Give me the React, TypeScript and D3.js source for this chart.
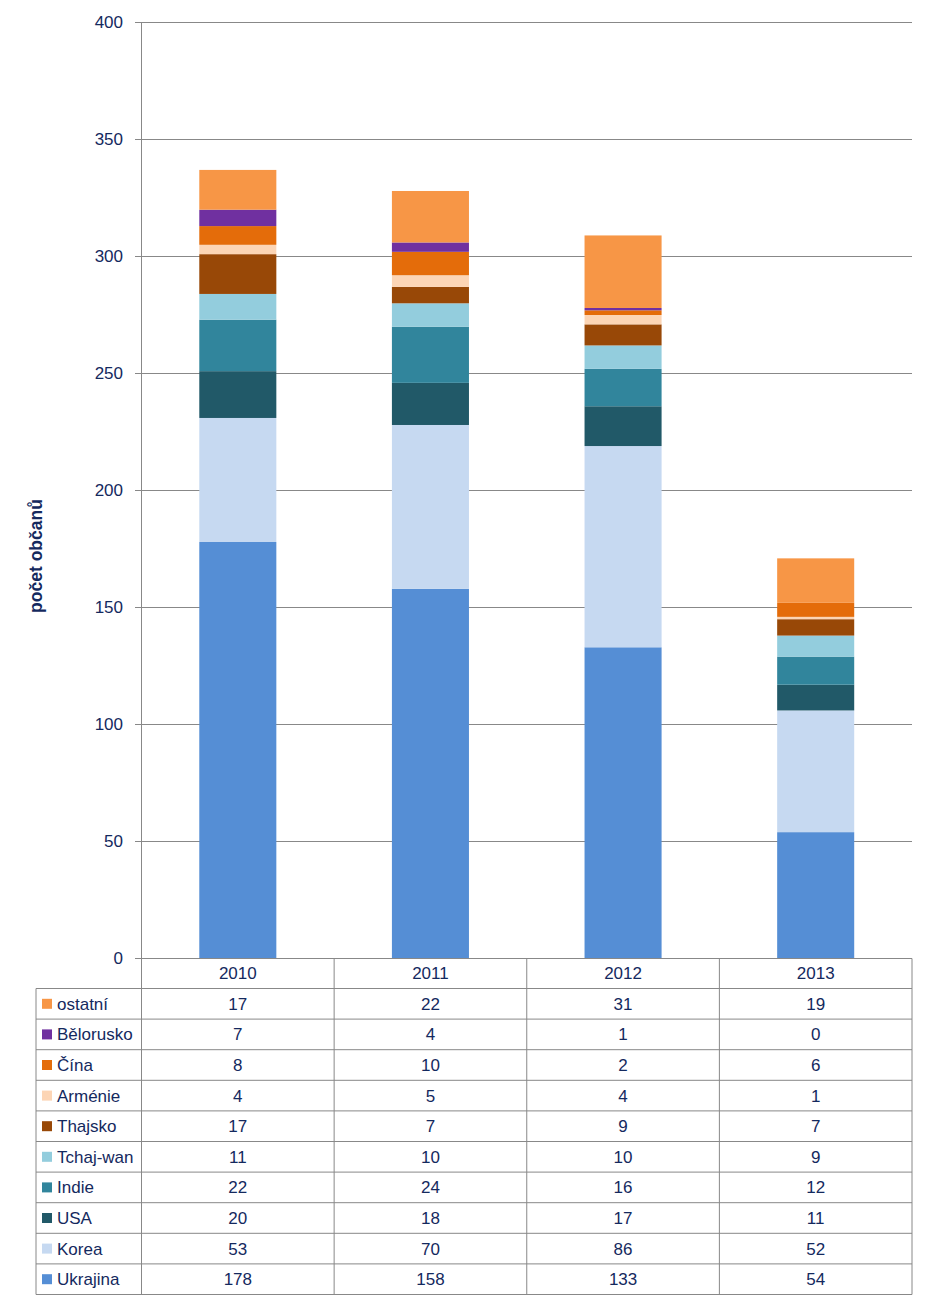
import React from "react";
import * as d3 from "d3";

const years = ["2010", "2011", "2012", "2013"];
const seriesNames = ["Ukrajina", "Korea", "USA", "Indie", "Tchaj-wan", "Thajsko", "Arménie", "Čína", "Bělorusko", "ostatní"];
const seriesColors = ["#558ED5", "#C6D9F1", "#215968", "#31859C", "#93CDDD", "#984807", "#FCD5B5", "#E46C0A", "#7030A0", "#F79646"];
const ukrajina = [178, 158, 133, 54];
const korea = [53, 70, 86, 52];
const usa = [20, 18, 17, 11];
const indie = [22, 24, 16, 12];
const tchajwan = [11, 10, 10, 9];
const thajsko = [17, 7, 9, 7];
const armenie = [4, 5, 4, 1];
const cina = [8, 10, 2, 6];
const belorusko = [7, 4, 1, 0];
const ostatni = [17, 22, 31, 19];
const yTicks = [0, 50, 100, 150, 200, 250, 300, 350, 400];
const yTitle = "počet občanů";

const seriesValues = [ukrajina, korea, usa, indie, tchajwan, thajsko, armenie, cina, belorusko, ostatni];

const TEXT = "#14295E";
const GRID = "#888888";
const FONT = "'Liberation Sans', Arial, sans-serif";

export default function App() {
  const W = 934, H = 1305;
  const left = 141.5, right = 912, top = 22.5, bottom = 958.5;
  const x = d3.scaleBand<string>().domain(years).range([left, right]).paddingInner(0.6).paddingOuter(0.3);
  const xCol = d3.scaleBand<string>().domain(years).range([left, right]);
  const y = d3.scaleLinear().domain([0, 400]).range([bottom, top]);

  const table = years.map((yr, i) => {
    const o: any = { year: yr };
    seriesNames.forEach((s, k) => (o[s] = seriesValues[k][i]));
    return o;
  });
  const stacked = d3.stack<any>().keys(seriesNames)(table);

  const headerH = 30;
  const rowTop = bottom + headerH;
  const rowH = 30.6;
  const tableLeft = 36;
  const rows = seriesNames.map((n, k) => k).reverse();
  const tableBottom = rowTop + rowH * rows.length;

  return (
    <svg width={W} height={H} style={{ position: "absolute", left: 0, top: 0, background: "#fff" }} fontFamily={FONT}>
      {yTicks.map((t) => (
        <g key={t}>
          <line x1={135} x2={t === 0 ? left : right} y1={y(t)} y2={y(t)} stroke={GRID} strokeWidth={1} />
          <text x={123} y={y(t)} dy="0.35em" textAnchor="end" fontSize={17} fill={TEXT}>{t}</text>
        </g>
      ))}
      {stacked.map((layer, k) => (
        <g key={layer.key} fill={seriesColors[k]}>
          {layer.map((d, i) => (
            <rect key={i} x={x(years[i])} width={x.bandwidth()} y={y(d[1])} height={Math.max(0, y(d[0]) - y(d[1]))} />
          ))}
        </g>
      ))}
      <line x1={left} x2={left} y1={top} y2={tableBottom} stroke={GRID} />
      <line x1={left} x2={right} y1={bottom} y2={bottom} stroke={GRID} />
      <text transform={`translate(42,556) rotate(-90)`} textAnchor="middle" fontSize={17.5} fontWeight="bold" fill={TEXT}>{yTitle}</text>
      {years.map((yr) => (
        <text key={yr} x={(xCol(yr) as number) + xCol.bandwidth() / 2} y={bottom + headerH / 2} dy="0.35em" textAnchor="middle" fontSize={17} fill={TEXT}>{yr}</text>
      ))}
      {years.map((yr) => (
        <line key={yr} x1={(xCol(yr) as number) + xCol.bandwidth()} x2={(xCol(yr) as number) + xCol.bandwidth()} y1={bottom} y2={tableBottom} stroke={GRID} />
      ))}
      <line x1={tableLeft} x2={tableLeft} y1={rowTop} y2={tableBottom} stroke={GRID} />
      {rows.map((k, r) => {
        const ry = rowTop + r * rowH;
        return (
          <g key={k}>
            <line x1={tableLeft} x2={right} y1={ry} y2={ry} stroke={GRID} />
            <rect x={42} y={ry + rowH / 2 - 5} width={10} height={10} fill={seriesColors[k]} />
            <text x={57} y={ry + rowH / 2} dy="0.35em" fontSize={17} fill={TEXT}>{seriesNames[k]}</text>
            {years.map((yr, i) => (
              <text key={yr} x={(xCol(yr) as number) + xCol.bandwidth() / 2} y={ry + rowH / 2} dy="0.35em" textAnchor="middle" fontSize={17} fill={TEXT}>{seriesValues[k][i]}</text>
            ))}
          </g>
        );
      })}
      <line x1={tableLeft} x2={right} y1={tableBottom} y2={tableBottom} stroke={GRID} />
    </svg>
  );
}
